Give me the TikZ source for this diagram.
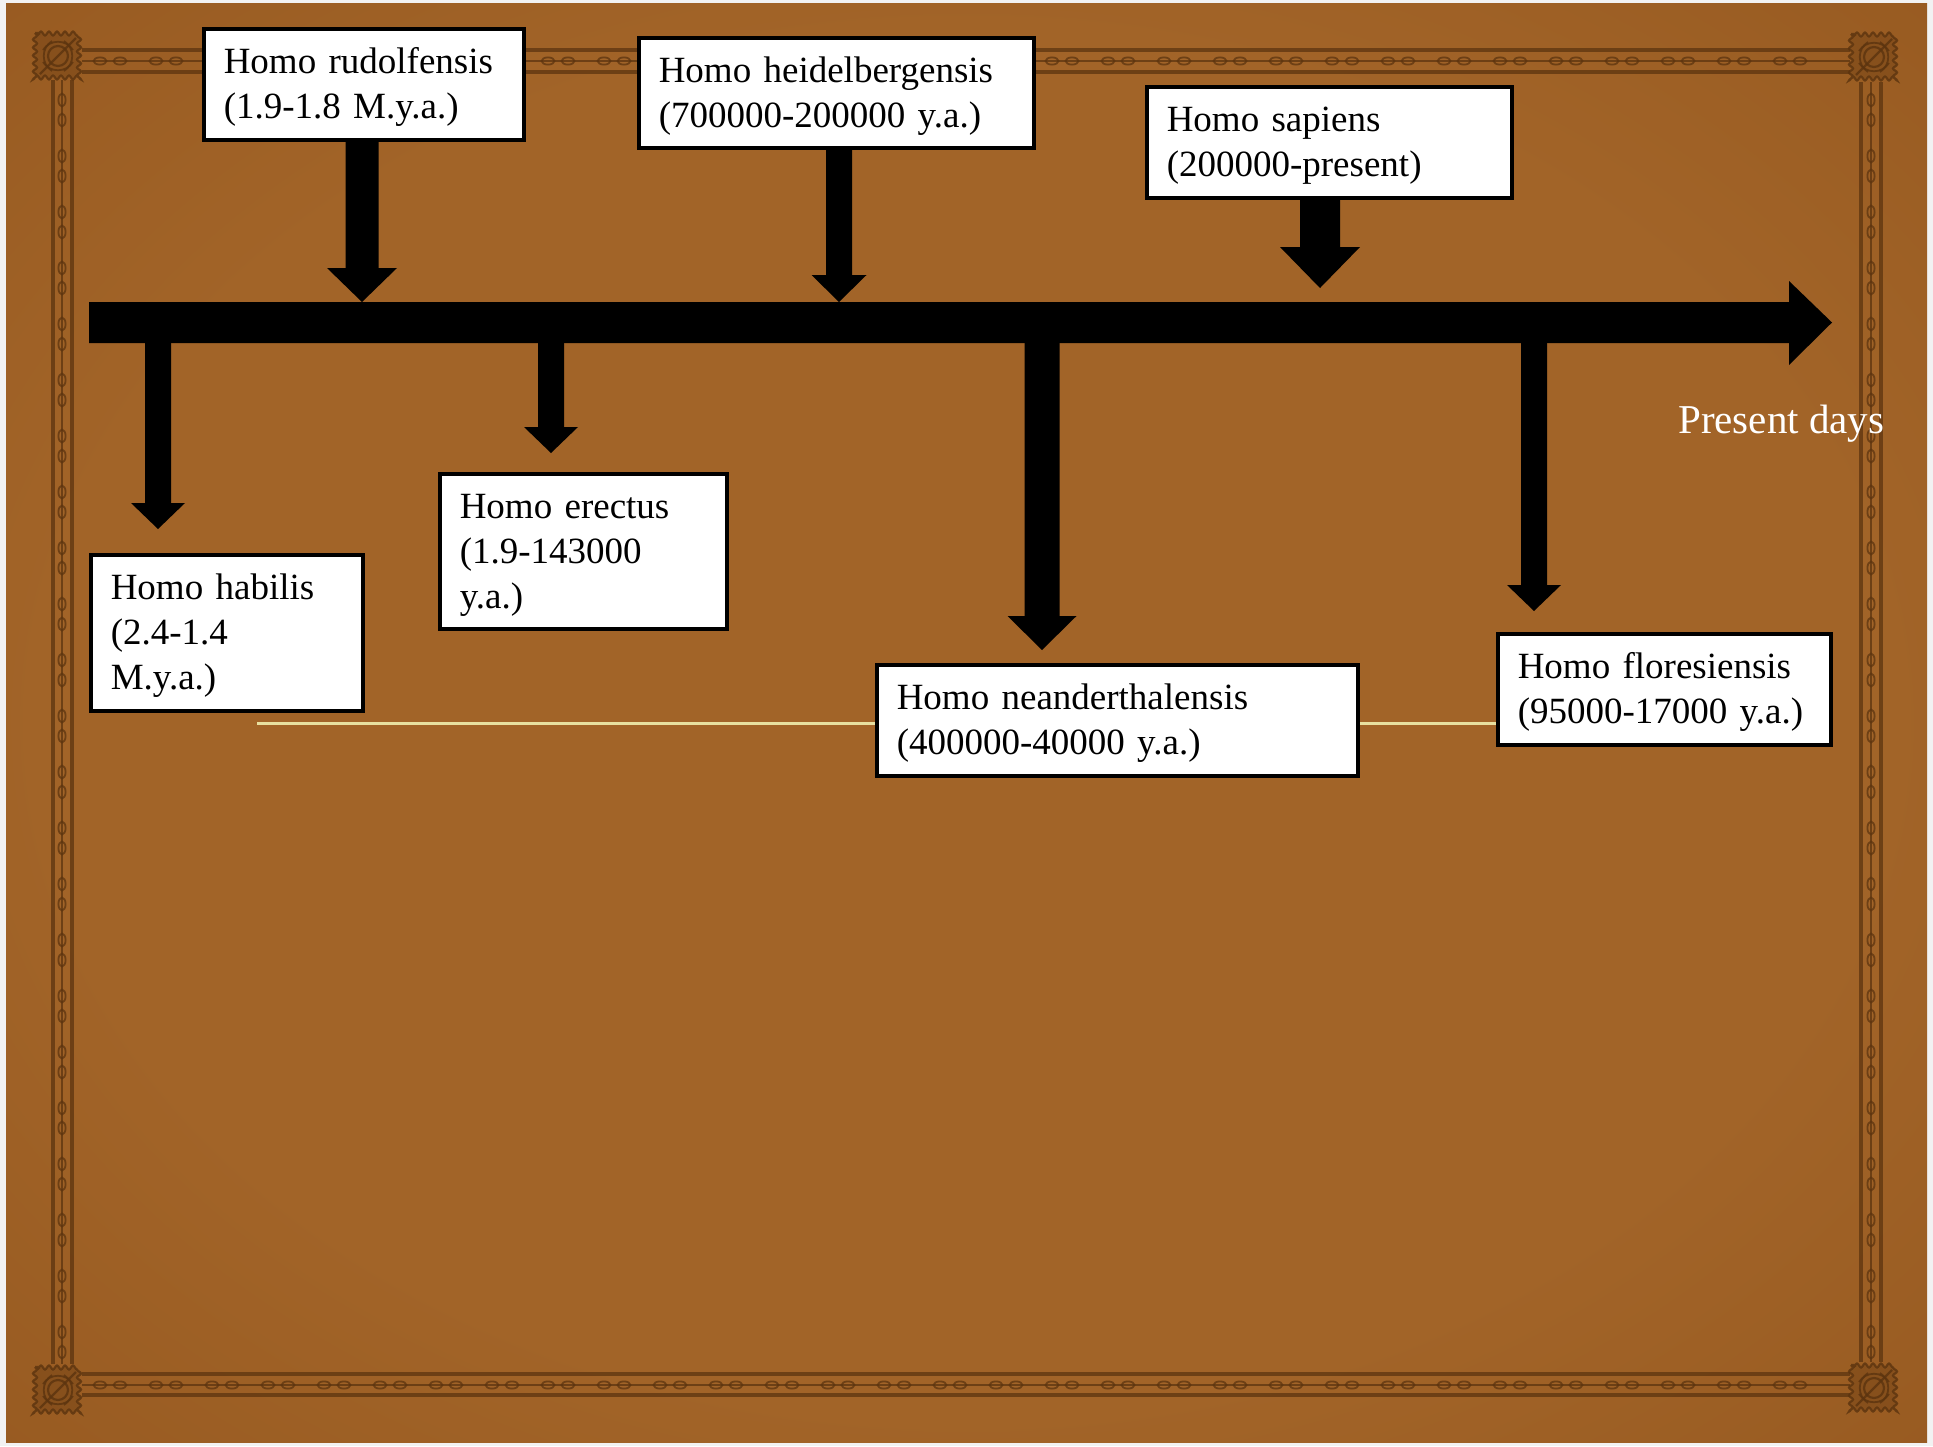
\documentclass[tikz,border=0pt]{standalone}
\usepackage{fontspec}
\setmainfont{Liberation Serif}
\usetikzlibrary{decorations.pathmorphing}
\definecolor{bgin}{RGB}{162,100,40}
\definecolor{bgmid}{RGB}{150,89,32}
\definecolor{bgedge}{RGB}{122,70,21}
\definecolor{bgout}{RGB}{100,56,15}
\definecolor{framec}{RGB}{92,52,15}
\definecolor{guide}{RGB}{232,224,160}
\pgfdeclareradialshading{vign}{\pgfpoint{0bp}{0bp}}{color(0bp)=(bgin); color(24bp)=(bgin); color(38bp)=(bgmid); color(50bp)=(bgedge); color(70bp)=(bgout)}
\newcommand{\blkarrow}[6]{\fill[black] ({#1-#5/2},#2) -- ({#1+#5/2},#2) -- ({#1+#5/2},#3) -- ({#1+#6/2},#3) -- (#1,#4) -- ({#1-#6/2},#3) -- ({#1-#5/2},#3) -- cycle;}
\newcommand{\topstrut}{\rule{0pt}{32pt}}
\tikzset{
  fline/.style={draw=framec, line width=3.4pt, draw opacity=0.75},
  bline/.style={draw=framec, line width=1.8pt, draw opacity=0.75},
  bead/.style={draw=framec, line width=1.8pt, draw opacity=0.75},
  sp/.style={draw=black, line width=3.5pt, fill=white, inner xsep=20pt, inner ysep=0pt,
    align=left, anchor=north west, font=\fontsize{37}{45}\selectfont},
  pics/orn/.style={code={
    \fill[framec, fill opacity=0.3, decorate,
      decoration={snake, amplitude=2pt, segment length=8pt}] (-23,-23) rectangle (23,23);
    \draw[framec, line width=2.2pt, draw opacity=0.8, decorate,
      decoration={snake, amplitude=2pt, segment length=8pt}] (-23,-23) rectangle (23,23);
    \draw[framec, line width=2.2pt, draw opacity=0.8] (0,0) circle (10);
    \draw[framec, line width=2.2pt, draw opacity=0.8] (-18,18) -- (18,-18);
    \draw[framec, line width=1.8pt, draw opacity=0.8] (-15,-6) .. controls (-8,-17) and (8,-17) .. (15,-6);
    \draw[framec, line width=1.8pt, draw opacity=0.8] (-15,6) .. controls (-8,17) and (8,17) .. (15,6);
    \draw[framec, line width=1.8pt, draw opacity=0.8] (-6,-15) .. controls (-17,-8) and (-17,8) .. (-6,15);
    \draw[framec, line width=1.8pt, draw opacity=0.8] (6,-15) .. controls (17,-8) and (17,8) .. (6,15);
  }}
}
\begin{document}
\begin{tikzpicture}[x=1pt,y=-1pt]
\useasboundingbox (0,0) rectangle (1933,1446);
\fill[gray!10] (0,0) rectangle (1933,1446);
\shade[shading=vign] (6,3) rectangle (1927,1442);
% frame lines
\draw[fline] (82,50) -- (1850,50);
\draw[fline] (82,72) -- (1850,72);
\draw[fline] (82,1374) -- (1850,1374);
\draw[fline] (82,1395) -- (1850,1395);
\draw[fline] (53,80) -- (53,1364);
\draw[fline] (72,80) -- (72,1364);
\draw[fline] (1861,82) -- (1861,1362);
\draw[fline] (1881,82) -- (1881,1362);
\draw[bline] (82,61) -- (1850,61);
\draw[bline] (82,1385) -- (1850,1385);
\draw[bline] (62,80) -- (62,1364);
\draw[bline] (1871,82) -- (1871,1362);
\foreach \i in {0,...,30} {
  \draw[bead] ({100+56*\i},61) ellipse (6.5 and 3.6);
  \draw[bead] ({120+56*\i},61) ellipse (6.5 and 3.6);
  \draw[bead] ({100+56*\i},1385) ellipse (6.5 and 3.6);
  \draw[bead] ({120+56*\i},1385) ellipse (6.5 and 3.6);
}
\foreach \i in {0,...,22} {
  \draw[bead] (62,{100+56*\i}) ellipse (3.6 and 6.5);
  \draw[bead] (62,{120+56*\i}) ellipse (3.6 and 6.5);
  \draw[bead] (1871,{100+56*\i}) ellipse (3.6 and 6.5);
  \draw[bead] (1871,{120+56*\i}) ellipse (3.6 and 6.5);
}
\pic at (58,56) {orn};
\pic at (1874,57) {orn};
\pic at (58,1390) {orn};
\pic at (1874,1388) {orn};
% main timeline arrow
\fill[black] (89,302) -- (1789,302) -- (1789,281) -- (1832,322.5) -- (1789,365) -- (1789,343) -- (89,343) -- cycle;
% down arrows
\blkarrow{362}{137}{268}{302}{33}{70}
\blkarrow{839}{145}{275}{302}{26}{55}
\blkarrow{1320}{195}{247}{288}{40}{80}
\blkarrow{158}{343}{503}{529}{26}{54}
\blkarrow{551}{343}{427}{453}{26}{54}
\blkarrow{1042}{343}{616}{650}{35}{69}
\blkarrow{1534}{343}{585}{611}{26}{54}
% boxes
\node[sp, text width=293pt, minimum height=111pt] (flo) at (1496,632) {\topstrut Homo floresiensis\\(95000-17000 y.a.)};
\coordinate (gl) at (257,723);
\draw[guide, line width=3pt] (gl) -- (gl -| flo.west);
\node[sp, text width=280pt, minimum height=111pt] (rud) at (202,27) {\topstrut Homo rudolfensis\\(1.9-1.8 M.y.a.)};
\node[sp, text width=355pt, minimum height=110pt] (hei) at (637,36) {\topstrut Homo heidelbergensis\\(700000-200000 y.a.)};
\node[sp, text width=325pt, minimum height=111pt] (sap) at (1145,85) {\topstrut Homo sapiens\\(200000-present)};
\node[sp, text width=232pt, minimum height=156pt] (hab) at (89,553) {\topstrut Homo habilis\\(2.4-1.4\\M.y.a.)};
\node[sp, text width=247pt, minimum height=155pt] (ere) at (438,472) {\topstrut Homo erectus\\(1.9-143000\\y.a.)};
\node[sp, text width=441pt, minimum height=111pt] (nea) at (875,663) {\topstrut Homo neanderthalensis\\(400000-40000 y.a.)};
\node[text=white, anchor=base west, inner sep=0pt, font=\fontsize{41}{49}\selectfont] (pres) at (1678,433) {Present days};
\end{tikzpicture}
\end{document}
